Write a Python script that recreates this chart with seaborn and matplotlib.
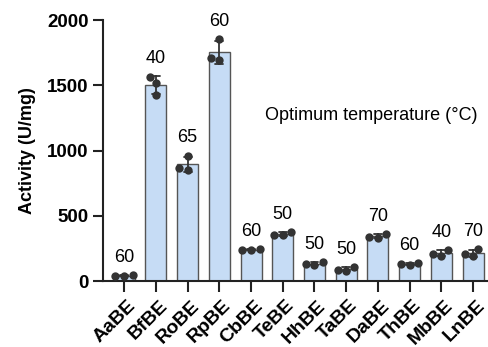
import numpy as np
import pandas as pd
import seaborn as sns
import matplotlib.pyplot as plt
import matplotlib.transforms as mtransforms

# enzymes, replicate activities (U/mg) and optimum temperatures
enzymes = ["AaBE", "BfBE", "RoBE", "RpBE", "CbBE", "TeBE",
           "HhBE", "TaBE", "DaBE", "ThBE", "MbBE", "LnBE"]
rep1 = [40, 1564, 962, 1854, 245, 378, 148, 110, 360, 140, 237, 243]
rep2 = [45, 1520, 854, 1692, 240, 350, 125, 88, 337, 128, 209, 205]
rep3 = [38, 1428, 868, 1713, 236, 355, 130, 78, 330, 122, 194, 190]
opt_temp = [60, 40, 65, 60, 60, 50, 50, 50, 70, 60, 40, 70]

df = pd.DataFrame({
    "enzyme": enzymes * 3,
    "activity": rep1 + rep2 + rep3,
})

sns.set_theme(style="ticks")
plt.rcParams["font.family"] = ["Liberation Sans", "DejaVu Sans"]
plt.rcParams["text.color"] = "black"
plt.rcParams["axes.labelcolor"] = "black"
plt.rcParams["xtick.color"] = "black"
plt.rcParams["ytick.color"] = "black"

fig = plt.figure(figsize=(4.89, 3.47), dpi=100)
ax = fig.add_axes([0.211, 0.19, 0.789, 0.752])

sns.barplot(data=df, x="enzyme", y="activity", order=enzymes,
            errorbar="sd", capsize=0.25, width=0.66,
            color="#c6dcf5", saturation=1, edgecolor="#555555", linewidth=1,
            err_kws={"color": "#333333", "linewidth": 1.3}, ax=ax)
sns.swarmplot(data=df, x="enzyme", y="activity", order=enzymes,
              color="#333333", size=6, ax=ax)

# temperature labels above the error bars
tops = df.groupby("enzyme", sort=False)["activity"].agg(["mean", "std"])
for i, e in enumerate(enzymes):
    top = max(tops.loc[e, "mean"] + tops.loc[e, "std"], df[df.enzyme == e].activity.max())
    ax.text(i, top + 70, str(opt_temp[i]), ha="center", va="bottom", fontsize=13)

ax.text(4.45, 1270, "Optimum temperature (\u00b0C)", ha="left", va="center", fontsize=13)

ax.set_xlim(-0.66, 11.5)
ax.set_ylim(0, 2000)
ax.set_yticks([0, 500, 1000, 1500, 2000])
ax.set_xlabel("")
ax.set_ylabel("Activity (U/mg)", fontsize=13, fontweight="bold", labelpad=8)
sns.despine(ax=ax)
for s in ["left", "bottom"]:
    ax.spines[s].set_linewidth(1.5)
    ax.spines[s].set_color("#222222")
ax.tick_params(axis="y", length=7, width=1.5, labelsize=13.5, color="#222222")
ax.tick_params(axis="x", length=8, width=1.5, labelsize=14, color="#222222")
for lab in ax.get_yticklabels():
    lab.set_fontweight("bold")
shift = mtransforms.ScaledTranslation(3 / 100, 0, fig.dpi_scale_trans)
for lab in ax.get_xticklabels():
    lab.set_rotation(45)
    lab.set_ha("right")
    lab.set_rotation_mode("anchor")
    lab.set_fontweight("bold")
    lab.set_transform(lab.get_transform() + shift)

fig.savefig("out.png", dpi=100)
